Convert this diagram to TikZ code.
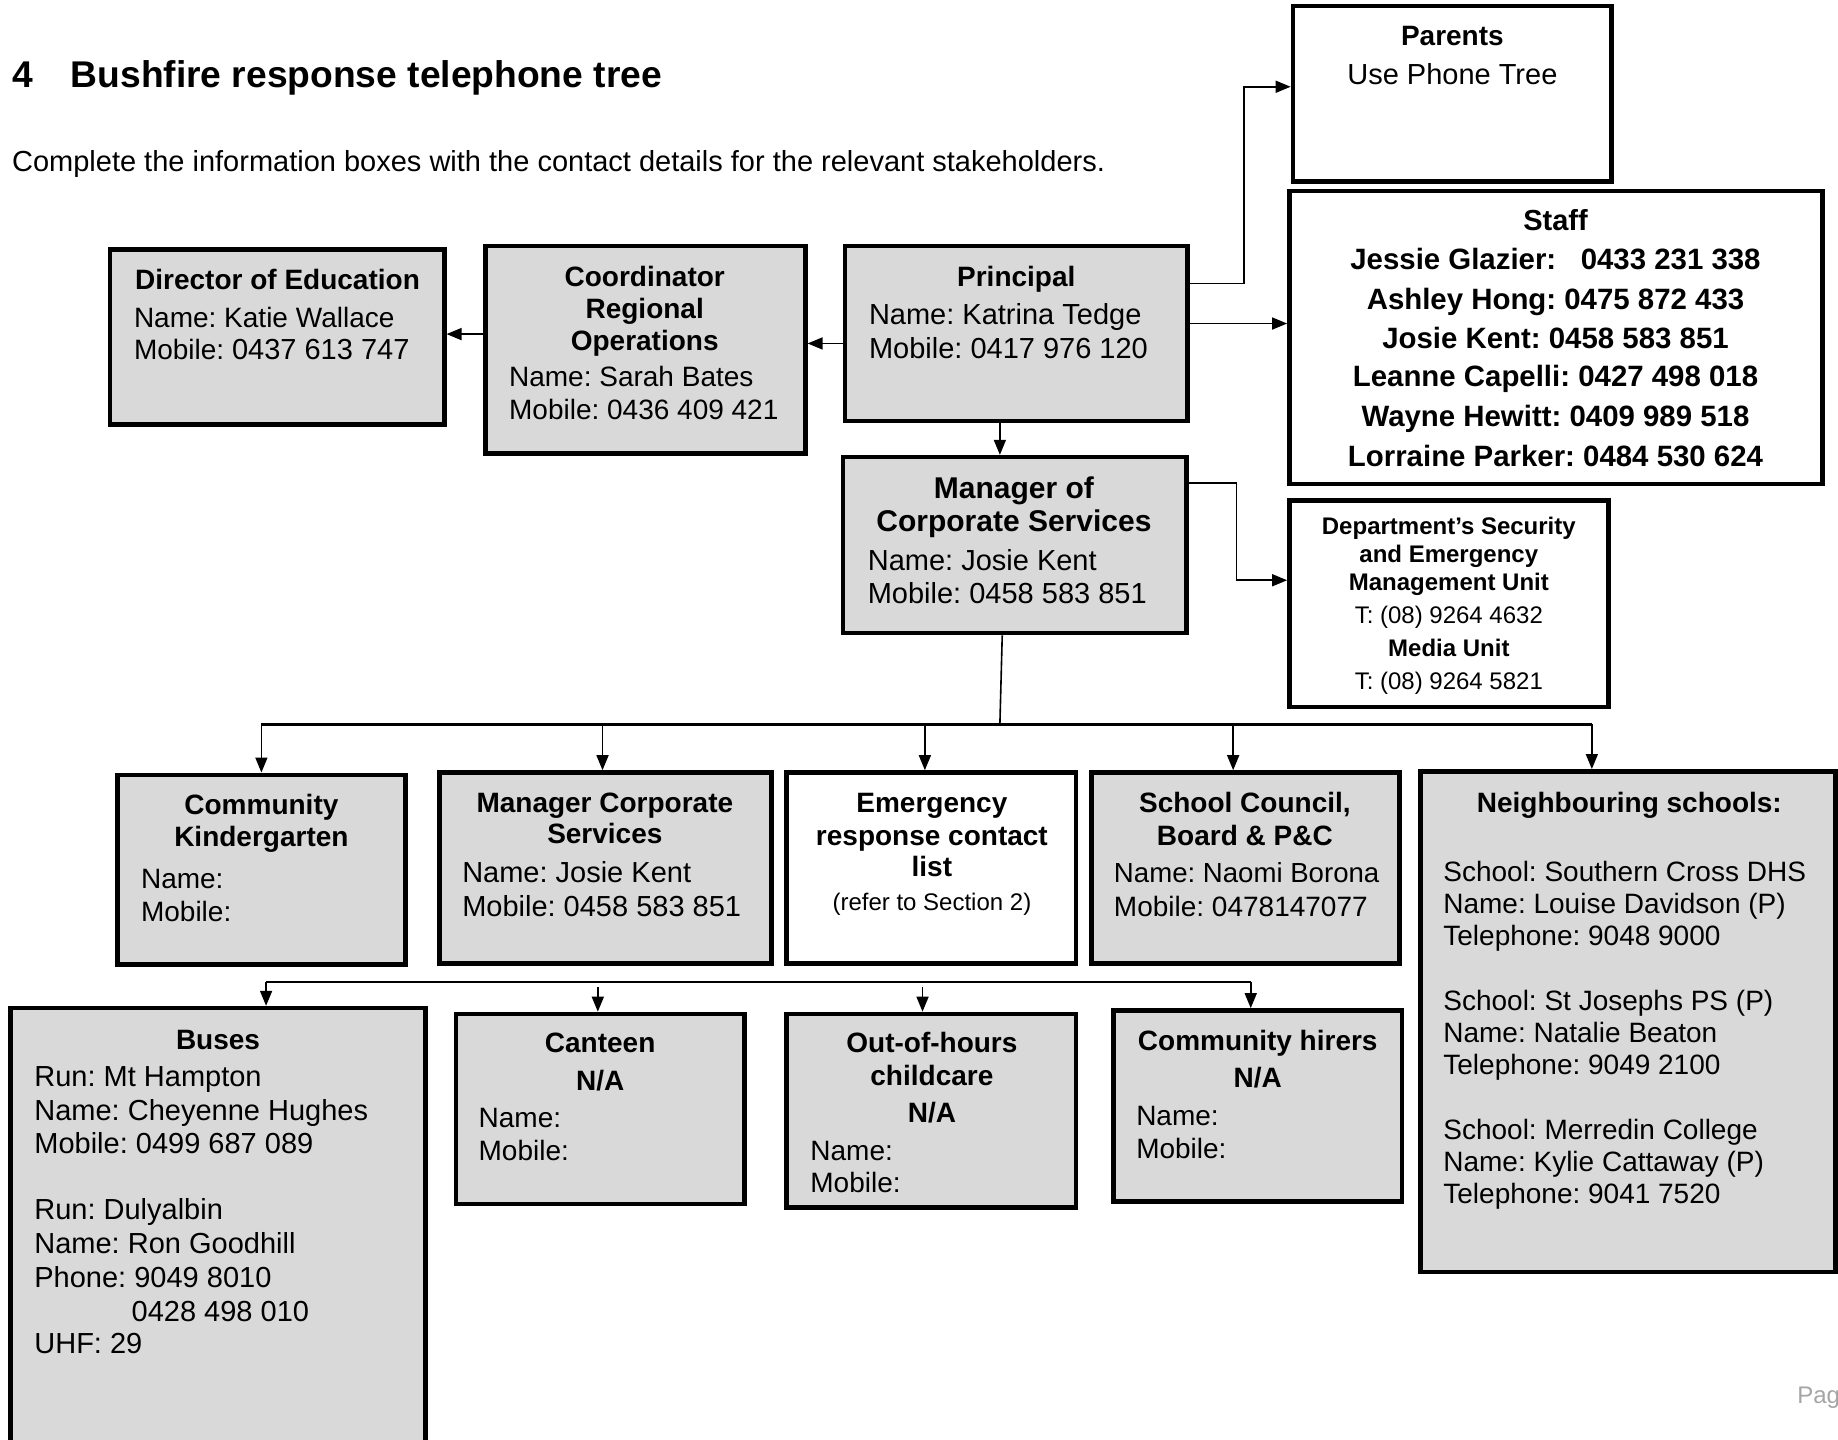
\documentclass[tikz,border=0pt]{standalone}
\usepackage{fontspec}
\setmainfont{Liberation Sans}
\usetikzlibrary{arrows.meta,fit}
\definecolor{boxgray}{RGB}{217,217,217}
\definecolor{pagegray}{RGB}{165,165,165}
\frenchspacing
\begin{document}
\begin{tikzpicture}[x=0.5861pt,y=-0.5861pt,
  box/.style={draw=black,line width=2.3pt,inner sep=0pt,fill=boxgray},
  wbox/.style={box,fill=white},
  conn/.style={line width=0.8pt,-{Triangle[length=7.5pt,width=6pt]}},
  plain/.style={line width=0.8pt},
  busline/.style={line width=1.1pt},
  hd/.style={font=\fontsize{14}{16}\selectfont\bfseries,anchor=base,inner sep=0pt},
  hdl/.style={hd,anchor=base west},
  tx/.style={font=\fontsize{14}{16}\selectfont,anchor=base west,inner sep=0pt},
  txw/.style={tx,font=\fontsize{14.5}{16}\selectfont},
  txc/.style={tx,anchor=base},
  stf/.style={font=\fontsize{14.7}{16}\selectfont\bfseries,anchor=base,inner sep=0pt},
  sm/.style={font=\fontsize{12}{14}\selectfont,anchor=base,inner sep=0pt},
  smb/.style={sm,font=\fontsize{12}{14}\selectfont\bfseries}
]
\useasboundingbox (0,0) rectangle (1568,1228);
\clip (0,0) rectangle (1568,1228);

% title and intro
\node[anchor=base west,inner sep=0pt,font=\fontsize{18.6}{20}\selectfont\bfseries] (ttlnum) at (10,75) {4};
\node[anchor=base west,inner sep=0pt,font=\fontsize{18.6}{20}\selectfont\bfseries] (ttl) at (60,75) {Bushfire response telephone tree};
\node[tx,font=\fontsize{14.5}{16}\selectfont] (intro) at (10,146) {Complete the information boxes with the contact details for the relevant stakeholders.};

% ---- boxes ----
\node[box,fit={(94,213) (379,362)}] (dir) {};
\node[box,fit={(414,210) (687,387)}] (coord) {};
\node[box,fit={(721,210) (1013,359)}] (prin) {};
\node[wbox,fit={(1103,5) (1375,155)}] (par) {};
\node[wbox,fit={(1100,163) (1555,413)}] (staff) {};
\node[box,fit={(719,390) (1012,540)}] (mgr) {};
\node[wbox,fit={(1100,427) (1372,603)}] (dept) {};

\node[box,fit={(100,661) (346,823)}] (kind) {};
\node[box,fit={(375,659) (658,822)}] (mcs) {};
\node[wbox,fit={(671,659) (918,822)}] (emer) {};
\node[box,fit={(931,659) (1194,822)}] (council) {};
\node[box,fit={(1212,658) (1566,1085)}] (neigh) {};

\node[box,fit={(9,860) (363,1250)}] (buses) {};
\node[box,fit={(389,865) (635,1027)}] (cant) {};
\node[box,fit={(671,865) (918,1030)}] (ooh) {};
\node[box,fit={(950,862) (1196,1025)}] (hire) {};

% ---- texts ----
\node[hdl] (dirA) at (115,247) {Director of Education};
\node[tx] (dirB) at (114,279) {Name: Katie Wallace};
\node[tx] (dirC) at (114,307) {Mobile: \fontsize{14.5}{16}\selectfont 0437 613 747};

\node[hd] (coA) at (550,244) {Coordinator};
\node[hd] (coB) at (550,272) {Regional};
\node[hd] (coC) at (550,299) {Operations};
\node[tx] (coD) at (434,330) {Name: Sarah Bates};
\node[tx] (coE) at (434,358) {Mobile: 0436 409 421};

\node[hd] (prA) at (867,244) {Principal};
\node[txw] (prB) at (741,277) {Name: Katrina Tedge};
\node[txw] (prC) at (741,306) {Mobile: 0417 976 120};

\node[hd] (paA) at (1239,39) {Parents};
\node[txc,font=\fontsize{14.5}{16}\selectfont] (paB) at (1239,72) {Use Phone Tree};

\node[stf,font=\fontsize{14.5}{16}\selectfont\bfseries] (stA) at (1327,197) {Staff};
\node[stf] (stB) at (1327,230) {Jessie Glazier:\ \ \ 0433 231 338};
\node[stf] (stC) at (1327,264) {Ashley Hong: 0475 872 433};
\node[stf] (stD) at (1327,297) {Josie Kent: 0458 583 851};
\node[stf] (stE) at (1327,330) {Leanne Capelli: 0427 498 018};
\node[stf] (stF) at (1327,364) {Wayne Hewitt: 0409 989 518};
\node[stf] (stG) at (1327,398) {Lorraine Parker: 0484 530 624};

\node[hd,font=\fontsize{15}{16}\selectfont\bfseries] (mgA) at (865,425) {Manager of};
\node[hd,font=\fontsize{15}{16}\selectfont\bfseries] (mgB) at (865,453) {Corporate Services};
\node[txw] (mgC) at (740,487) {Name: Josie Kent};
\node[txw] (mgD) at (740,515) {Mobile: 0458 583 851};

\node[smb] (deA) at (1236,456) {Department’s Security};
\node[smb] (deB) at (1236,480) {and Emergency};
\node[smb] (deC) at (1236,504) {Management Unit};
\node[sm] (deD) at (1236,532) {T: (08) 9264 4632};
\node[smb] (deE) at (1236,560) {Media Unit};
\node[sm] (deF) at (1236,588) {T: (08) 9264 5821};

\node[hd] (kiA) at (223,695) {Community};
\node[hd] (kiB) at (223,722) {Kindergarten};
\node[tx] (kiC) at (120,758) {Name:};
\node[tx] (kiD) at (120,786) {Mobile:};

\node[hd] (mcA) at (516,693) {Manager Corporate};
\node[hd] (mcB) at (516,720) {Services};
\node[txw] (mcC) at (394,753) {Name: Josie Kent};
\node[txw] (mcD) at (394,782) {Mobile: 0458 583 851};

\node[hd] (emA) at (795,693) {Emergency};
\node[hd] (emB) at (795,721) {response contact};
\node[hd] (emC) at (795,748) {list};
\node[sm] (emD) at (795,777) {(refer to Section 2)};

\node[hd] (scA) at (1062,693) {School Council,};
\node[hd] (scB) at (1062,721) {Board \& P\&C};
\node[tx,font=\fontsize{13.8}{16}\selectfont] (scC) at (950,753) {Name: Naomi Borona};
\node[tx] (scD) at (950,782) {Mobile: 0478147077};

\node[hd] (neA) at (1390,693) {Neighbouring schools:};
\node[tx] (neB) at (1231,752) {School: Southern Cross DHS};
\node[tx] (neC) at (1231,779) {Name: Louise Davidson (P)};
\node[tx] (neD) at (1231,807) {Telephone: 9048 9000};
\node[tx] (neE) at (1231,862) {School: St Josephs PS (P)};
\node[tx] (neF) at (1231,889) {Name: Natalie Beaton};
\node[tx] (neG) at (1231,917) {Telephone: 9049 2100};
\node[tx] (neH) at (1231,972) {School: Merredin College};
\node[tx] (neI) at (1231,999) {Name: Kylie Cattaway (P)};
\node[tx] (neJ) at (1231,1027) {Telephone: 9041 7520};

\node[hd] (buA) at (186,895) {Buses};
\node[txw] (buB) at (29,927) {Run: Mt Hampton};
\node[txw] (buC) at (29,956) {Name: Cheyenne Hughes};
\node[txw] (buD) at (29,984) {Mobile: 0499 687 089};
\node[txw] (buE) at (29,1040) {Run: Dulyalbin};
\node[txw] (buF) at (29,1069) {Name: Ron Goodhill};
\node[txw] (buG) at (29,1098) {Phone: 9049 8010};
\node[txw] (buH) at (112,1127) {0428 498 010};
\node[txw] (buI) at (29,1155) {UHF: 29};

\node[hd] (caA) at (512,898) {Canteen};
\node[hd] (caB) at (512,930) {N/A};
\node[tx] (caC) at (408,962) {Name:};
\node[tx] (caD) at (408,990) {Mobile:};

\node[hd] (ooA) at (795,898) {Out-of-hours};
\node[hd] (ooB) at (795,926) {childcare};
\node[hd] (ooC) at (795,958) {N/A};
\node[tx] (ooD) at (691,990) {Name:};
\node[tx] (ooE) at (691,1017) {Mobile:};

\node[hd] (hiA) at (1073,896) {Community hirers};
\node[hd] (hiB) at (1073,928) {N/A};
\node[tx] (hiC) at (969,960) {Name:};
\node[tx] (hiD) at (969,988) {Mobile:};

\node[anchor=base west,inner sep=0pt,font=\fontsize{12}{14}\selectfont,text=pagegray] (pg) at (1533,1197) {Pag};

% ---- connectors ----
\draw[conn] (prin.west |- 0,293) -- (coord.east |- 0,293);
\draw[conn] (coord.west |- 0,285) -- (dir.east |- 0,285);
\draw[conn] (prin.south -| 853,0) -- (mgr.north -| 853,0);
\draw[conn] (prin.east |- 0,242) -- (1061,242) |- (par.west |- 0,74);
\draw[conn] (prin.east |- 0,276) -- (staff.west |- 0,276);
\draw[conn] (mgr.east |- 0,412) -- (1055,412) |- (dept.west |- 0,495);

\coordinate (busA) at (853,618);
\draw[plain] (mgr.south -| 855,0) -- (busA);
\coordinate (busL) at (223,618);
\coordinate (busR) at (1358,618);
\draw[busline] (busL) -- (busR);
\draw[conn] (busL) -- (kind.north -| busL);
\draw[conn] (514,618) -- (mcs.north -| 514,0);
\draw[conn] (789,618) -- (emer.north -| 789,0);
\draw[conn] (1052,618) -- (council.north -| 1052,0);
\draw[conn] (busR) -- (neigh.north -| busR);

\coordinate (bus2L) at (227,838);
\coordinate (bus2R) at (1067,838);
\draw[busline] (bus2L) -- (bus2R);
\draw[conn] (bus2L) -- (buses.north -| bus2L);
\draw[conn] (510,842) -- (cant.north -| 510,0);
\draw[conn] (787,842) -- (ooh.north -| 787,0);
\draw[conn] (bus2R) -- (hire.north -| bus2R);
\end{tikzpicture}
\end{document}
